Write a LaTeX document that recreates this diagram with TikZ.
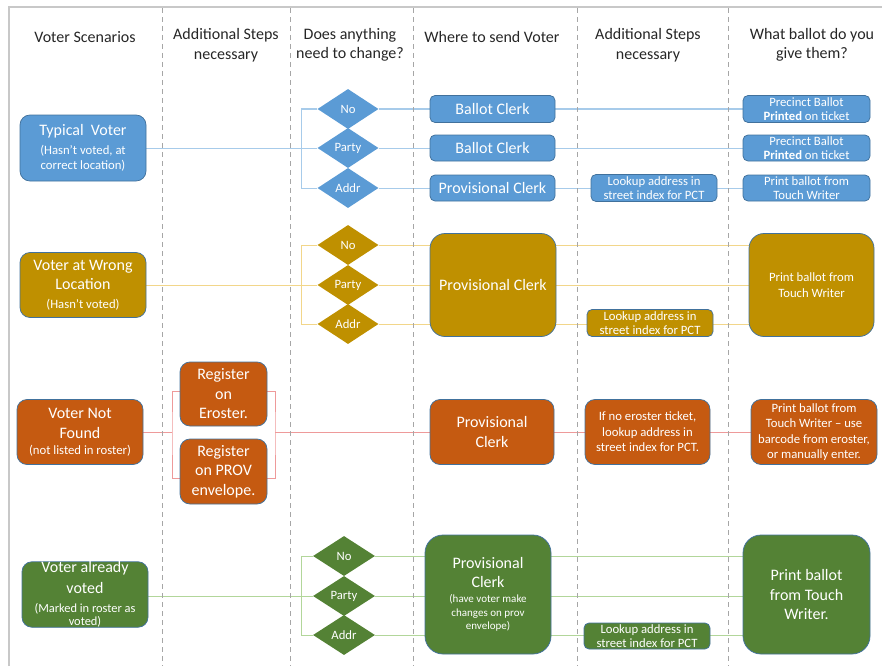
\documentclass[tikz,border=0pt]{standalone}
\usepackage{fontspec}
\setmainfont{Carlito}
\usetikzlibrary{shapes.geometric,calc}
\definecolor{cB}{HTML}{5B9BD5}
\definecolor{cG}{HTML}{BF9000}
\definecolor{cO}{HTML}{C55A11}
\definecolor{cV}{HTML}{548235}
\definecolor{bord}{HTML}{41719C}
\definecolor{lB}{HTML}{A7CBEA}
\definecolor{lG}{HTML}{F2D68A}
\definecolor{lO}{HTML}{EE9A9A}
\definecolor{lV}{HTML}{B2D69A}
\definecolor{hdc}{HTML}{262626}
\definecolor{sepc}{HTML}{A6A6A6}
\definecolor{framec}{HTML}{C8C8C8}
\newcommand\Lf{\fontsize{16}{19.5}\selectfont}
\newcommand\Sf{\fontsize{12.7}{15.5}\selectfont}
\newcommand\Kf{\fontsize{12.7}{14.2}\selectfont}
\newcommand\Tf{\fontsize{11}{13.4}\selectfont}
\newcommand\Mf{\fontsize{12.4}{13.5}\selectfont}
\pgfdeclarelayer{bg}
\pgfsetlayers{bg,main}
\begin{document}
\begin{tikzpicture}[x=1pt,y=-1pt,
  bx/.style={draw=bord, line width=0.75pt, align=center, text=white, inner sep=0pt, rounded corners=#1},
  bx/.default=5pt,
  dia/.style={diamond, fill=#1, minimum width=61pt, minimum height=40pt, inner sep=0pt, text=white, font=\Sf},
  hd/.style={align=center, text=hdc, font=\Lf, inner sep=0pt},
  sepl/.style={draw=sepc, line width=0.9pt, dash pattern=on 5pt off 4pt},
  cnB/.style={draw=lB, line width=1pt},
  cnG/.style={draw=lG, line width=1pt},
  cnO/.style={draw=lO, line width=1pt},
  cnV/.style={draw=lV, line width=1pt}
]
\useasboundingbox (0,0) rectangle (882,666);
\draw[draw=framec, line width=1.3pt] (9,666) -- (9,7) -- (882,7);
\foreach \x in {162,290,413,577,728} \draw[sepl] (\x,8) -- (\x,666);

% headers
\node[hd] (h1) at (85,37) {Voter Scenarios};
\node[hd] (h2) at (226,45) {Additional Steps\\necessary};
\node[hd] (h3) at (350,45) {Does anything\\need to change?};
\node[hd] (h4) at (492,37) {Where to send Voter};
\node[hd] (h5) at (648,45) {Additional Steps\\necessary};
\node[hd] (h6) at (812,45) {What ballot do you\\give them?};

% ---------- row 1 (blue)
\node[bx=10pt, fill=cB, minimum width=126pt, minimum height=66pt, font=\Sf] (tv) at (83,148)
  {{\Lf Typical\ \ Voter}\\[3.5pt](Hasn’t voted, at\\correct location)};
\node[dia=cB] (d1n) at (348,109) {No};
\node[dia=cB] (d1p) at (348,148) {Party};
\node[dia=cB] (d1a) at (348,188) {Addr};
\node[bx, fill=cB, minimum width=125pt, minimum height=27pt, font=\Lf] (bc1) at (492.5,109) {Ballot Clerk};
\node[bx, fill=cB, minimum width=125pt, minimum height=26pt, font=\Lf] (bc2) at (492.5,148) {Ballot Clerk};
\node[bx, fill=cB, minimum width=125pt, minimum height=26pt, font=\Lf] (pc1) at (492.5,188) {Provisional Clerk};
\node[bx, fill=cB, minimum width=126pt, minimum height=27pt, font=\Kf] (lk1) at (654,188) {Lookup address in\\street index for PCT};
\node[bx, fill=cB, minimum width=127pt, minimum height=27pt, font=\Kf] (pb1) at (806.5,109) {Precinct Ballot\\\textbf{Printed} on ticket};
\node[bx, fill=cB, minimum width=127pt, minimum height=26pt, font=\Kf] (pb2) at (806.5,148) {Precinct Ballot\\\textbf{Printed} on ticket};
\node[bx, fill=cB, minimum width=127pt, minimum height=26pt, font=\Kf] (pt1) at (806.5,188) {Print ballot from\\Touch Writer};

% ---------- row 2 (gold)
\node[bx=10pt, fill=cG, minimum width=126pt, minimum height=65pt, font=\Sf] (wl) at (83,285)
  {{\Lf Voter at Wrong}\\[4pt]{\Lf Location}\\[3.5pt](Hasn’t voted)};
\node[dia=cG] (d2n) at (348,245) {No};
\node[dia=cG] (d2p) at (348,285) {Party};
\node[dia=cG] (d2a) at (348,324) {Addr};
\node[bx=15pt, fill=cG, minimum width=126pt, minimum height=103pt, font=\Lf] (pc2) at (493,285) {Provisional Clerk};
\node[bx, fill=cG, minimum width=126pt, minimum height=27pt, font=\Kf] (lk2) at (650,323) {Lookup address in\\street index for PCT};
\node[bx=15pt, fill=cG, minimum width=125pt, minimum height=103pt, font=\Sf] (pt2) at (811.5,285) {Print ballot from\\Touch Writer};

% ---------- row 3 (orange)
\node[bx=10pt, fill=cO, minimum width=126pt, minimum height=65pt, font=\Sf] (nf) at (80,432)
  {{\Lf Voter Not}\\[5pt]{\Lf Found}\\(not listed in roster)};
\node[bx=10pt, fill=cO, minimum width=87pt, minimum height=64pt, font=\Lf] (re) at (223.5,394) {Register\\on\\Eroster.};
\node[bx=10pt, fill=cO, minimum width=87pt, minimum height=65pt, font=\Lf] (rp) at (223.5,471.5) {Register\\on PROV\\envelope.};
\node[bx=10pt, fill=cO, minimum width=124pt, minimum height=65pt, font=\Lf] (pc3) at (492,432) {Provisional\\Clerk};
\node[bx=10pt, fill=cO, minimum width=125pt, minimum height=65pt, font=\Sf] (if3) at (647.5,432) {If no eroster ticket,\\lookup address in\\street index for PCT.};
\node[bx=10pt, fill=cO, minimum width=126pt, minimum height=65pt, font=\Sf] (pt3) at (814,432) {Print ballot from\\Touch Writer – use\\barcode from eroster,\\or manually enter.};
\coordinate (bl) at (172,432);
\coordinate (br) at (275,432);

% ---------- row 4 (green)
\node[bx=10pt, fill=cV, minimum width=126pt, minimum height=65pt, font=\Mf] (av) at (85,594.5)
  {{\Lf Voter already}\\[5.5pt]{\Lf voted}\\[5.5pt](Marked in roster as\\voted)};
\node[dia=cV, minimum width=62pt] (d4n) at (344,556) {No};
\node[dia=cV, minimum width=62pt] (d4p) at (344,596) {Party};
\node[dia=cV, minimum width=62pt] (d4a) at (344,635) {Addr};
\node[bx=18pt, fill=cV, minimum width=126pt, minimum height=119pt, font=\Tf] (pc4) at (488,594.5)
  {{\Lf Provisional}\\[6pt]{\Lf Clerk}\\[1.6pt](have voter make\\changes on prov\\envelope)};
\node[bx, fill=cV, minimum width=126pt, minimum height=26pt, font=\Kf] (lk4) at (647,636) {Lookup address in\\street index for PCT};
\node[bx=18pt, fill=cV, minimum width=127pt, minimum height=119pt, font=\Lf] (pt4) at (806.5,594.5) {Print ballot\\from Touch\\Writer.};

% ---------- connectors
\begin{pgfonlayer}{bg}
% row 1
\draw[cnB] (tv.east) -- (d1p.west);
\draw[cnB] (d1n.west) -- ++(-15.5,0) |- (d1a.west);
\draw[cnB] (d1n.east) -- (bc1.west);
\draw[cnB] (d1p.east) -- (bc2.west);
\draw[cnB] (d1a.east) -- (pc1.west);
\draw[cnB] (bc1.east) -- (pb1.west);
\draw[cnB] (bc2.east) -- (pb2.west);
\draw[cnB] (pc1.east) -- (lk1.west);
\draw[cnB] (lk1.east) -- (pt1.west);
% row 2
\draw[cnG] (wl.east) -- (d2p.west);
\draw[cnG] (d2n.west) -- ++(-15.5,0) |- (d2a.west);
\draw[cnG] (d2n.east) -- (d2n.east -| pc2.west);
\draw[cnG] (d2p.east) -- (pc2.west);
\draw[cnG] (d2a.east) -- (d2a.east -| pc2.west);
\draw[cnG] (pc2.east |- d2n.east) -- (pt2.west |- d2n.east);
\draw[cnG] (pc2.east) -- (pt2.west);
\draw[cnG] (pc2.east |- d2a.east) -- (lk2.west |- d2a.east);
\draw[cnG] (lk2.east |- d2a.east) -- (pt2.west |- d2a.east);
% row 3
\draw[cnO] (nf.east) -- (bl);
\draw[cnO] ([yshift=3pt]re.west) -| (bl) |- ([yshift=-6.5pt]rp.west);
\draw[cnO] ([yshift=3pt]re.east) -| (br) |- ([yshift=-6.5pt]rp.east);
\draw[cnO] (br) -- (pc3.west);
\draw[cnO] (pc3.east) -- (if3.west);
\draw[cnO] (if3.east) -- (pt3.west);
% row 4
\draw[cnV] (av.east |- d4p.west) -- (d4p.west);
\draw[cnV] (d4n.west) -- ++(-11,0) |- (d4a.west);
\draw[cnV] (d4n.east) -- (d4n.east -| pc4.west);
\draw[cnV] (d4p.east) -- (d4p.east -| pc4.west);
\draw[cnV] (d4a.east) -- (d4a.east -| pc4.west);
\draw[cnV] (pc4.east |- d4n.east) -- (pt4.west |- d4n.east);
\draw[cnV] (pc4.east |- d4p.east) -- (pt4.west |- d4p.east);
\draw[cnV] (pc4.east |- d4a.east) -- (lk4.west |- d4a.east);
\draw[cnV] (lk4.east |- d4a.east) -- (pt4.west |- d4a.east);
\end{pgfonlayer}
\end{tikzpicture}
\end{document}
